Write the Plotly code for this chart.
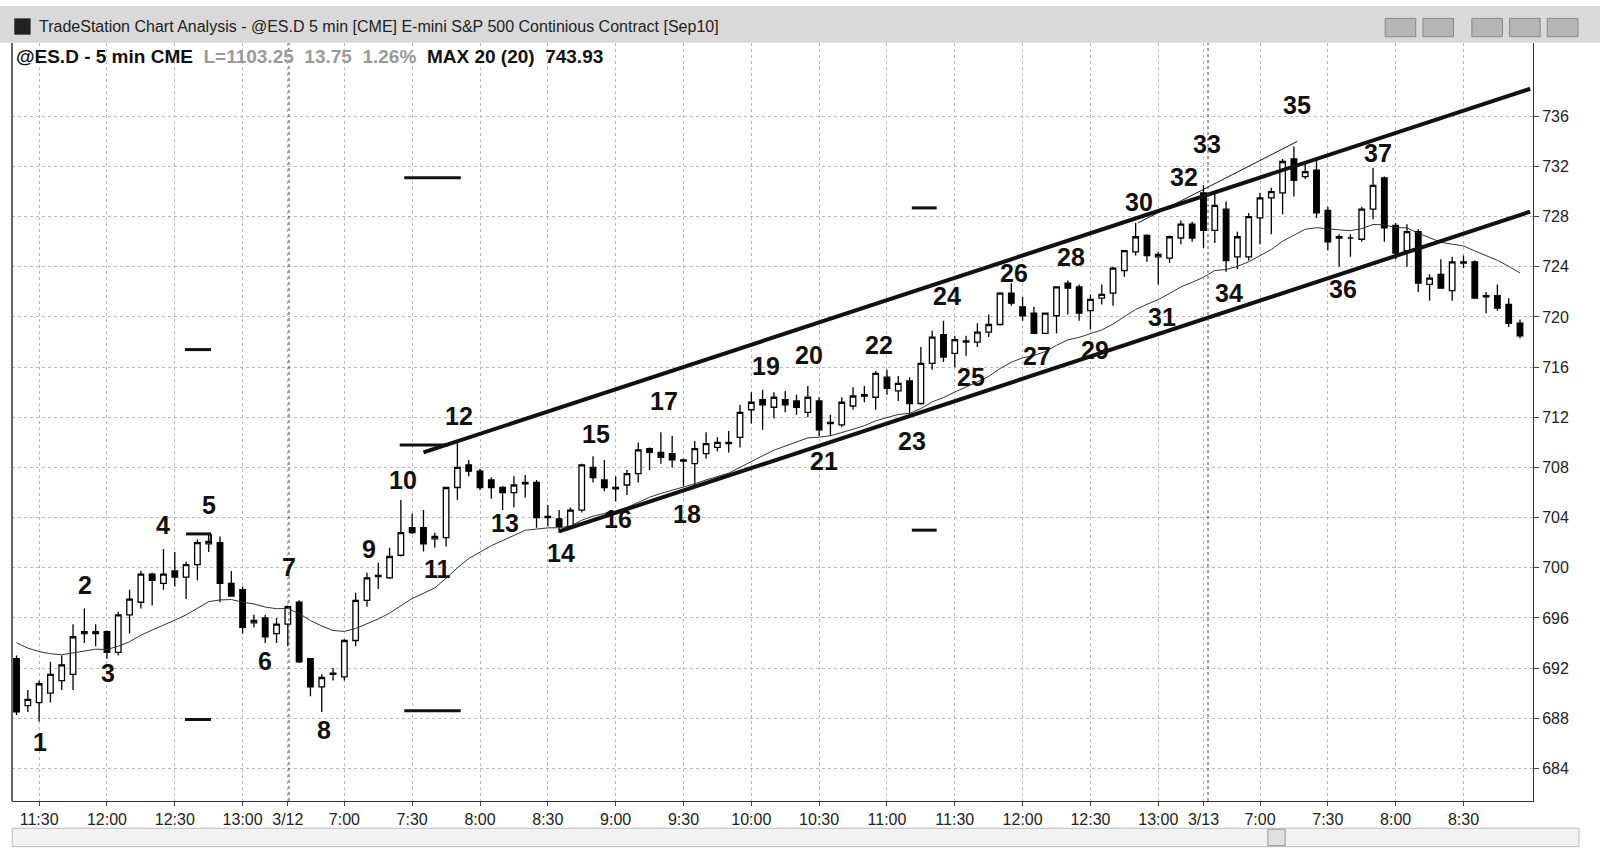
import plotly.graph_objects as go
import pandas as pd

opens = [692.75,689,689.25,690,691,691.5,694.75,694.75,694.9,693.25,696.25,697.25,699.5,698.75,699.75,699.25,700.25,701.9,702,698.75,698.25,695.6,696,694.75,
 695.5,697.25,692.75,690.5,691.5,691.3,694.2,697.4,699.3,699.2,701,703.2,703.2,702.3,702.4,706.4,708.2,707.7,707,706.4,706,706.7,706.8,704,703.9,703.3,
 704.6,708,707,706.3,706.6,707.5,709.5,709.2,709.1,708.6,708.3,709.1,709.6,709.9,710.4,712.6,713.4,712.8,713.4,713.3,712.4,713.3,711.5,711.4,712.9,713.7,
 713.6,715.2,714.1,714.9,713.1,716.3,718.6,717.1,718,718,718.8,719.4,721.9,720.8,720.3,718.7,720.1,722.7,722.4,720.5,721.5,721.9,723.7,725.2,726.5,724.8,
 724.7,726.3,727.4,
 729.9,726.9,728.6,724.8,724.8,727.9,729.5,729.9,732.6,731.2,731.7,728.5,726.4,726.3,726.2,728.6,731.1,727.3,725.3,726.8,722.6,723.4,722.1,724.4,724.4,
 721.7,721.7,721,719.5]
highs = [693,690.25,691,692.5,693,695.5,696.75,695.5,695,696.5,698.25,699.75,699.6,701.5,701.25,700.5,702.25,702.75,702.5,699.75,698.5,696.25,696.25,696,
 697,697.4,692.8,691.5,692,694.3,698,699.6,700.4,701.6,705.4,704.3,704.6,702.8,706.4,710,708.6,707.9,707.2,706.5,707.3,707.4,707,705,704.6,704.8,
 708.3,708.9,708.6,707.3,707.8,710,709.6,710.8,710.5,708.7,710.1,710.8,710.4,710.9,713,714,714.2,714,714.1,713.8,714.5,713.6,712.2,713.6,714.4,714.5,
 715.7,715.8,715.3,715.2,717.6,718.9,719.7,718.5,718.5,719.5,720.2,722,722.7,721.6,720.8,720.3,722.4,722.9,722.6,721.8,722.6,724,725.3,727.5,726.6,725.2,
 726.5,727.7,727.6,
 730.5,729.9,729.2,726.8,728.3,729.9,730.3,732.6,733.6,732.3,732.5,728.8,726.6,726.6,728.8,731.9,731.2,727.5,727.4,727,723.4,724.6,724.8,724.9,724.5,
 722,722.6,721.5,719.8]
lows = [688.25,688.5,687.75,689.25,690.25,690.25,694,693.75,692.75,693,694.75,696.75,697,698.25,698.5,697.5,699,701.25,697.25,697.75,694.75,695.25,694,694,
 693.75,692.4,689.75,688.5,691,691,693.75,696.9,698.3,699.1,700.9,702.7,701.3,701.6,701.7,705.4,707.3,706.2,705.5,704.6,704.8,705.6,703.2,703.3,702.8,703.2,
 704.4,706.8,706.1,705.3,705.8,706.8,707.8,708.3,708,706.5,706.6,708.7,709.3,709.2,709.6,711.5,711,711.9,712.4,712.2,712,710.5,710.5,711.2,712.6,713.2,
 712.6,713.8,713.3,712.3,713,715.8,716.4,716,716.9,717.6,718.4,719.3,720.9,719.7,718.7,718.7,718.7,720.2,719.7,719,721,720.9,723.2,724.9,724.4,722.6,
 724.3,725.8,726,
 725.5,725.9,723.6,723.8,724.5,725.8,726.6,728.2,729.6,731,727.9,725.3,724,724.8,726,727.8,726,724.6,724,722,721.3,722.3,721.3,723.9,721.5,
 720.3,720.5,719.2,718.3]
closes = [688.5,689.5,690.75,691.5,692.25,694.5,694.9,694.9,693.25,696.25,697.5,699.5,699,699.5,699.25,700.25,702,702.1,698.75,697.75,695.25,695.8,694.5,695.5,
 696.9,692.5,690.5,691.25,691.6,694.2,697.4,699.2,699.4,700.9,702.8,702.8,701.9,702.5,706.4,708,707.7,706.4,706.4,706,706.6,706.8,704,704.1,703.3,704.6,
 708.2,707.2,706.4,706.4,707.5,709.4,709.2,708.8,708.6,708.5,709.5,709.9,710,710,712.4,713.2,713,713.6,713,712.8,713.6,711,711.6,713.2,713.7,713.8,
 715.5,714.3,714.7,713.1,716.3,718.4,716.8,718.2,718.1,718.8,719.4,721.9,721.1,720.1,718.7,720.3,722.4,722.3,720.3,721.4,721.8,723.9,725.3,726.4,724.9,725,
 726.4,727.4,726.3,
 726.9,728.9,724.5,726.4,728,729.5,730,732.4,730.9,731.6,728.3,726,726.3,726.3,728.6,730.5,727.1,725.1,726.8,722.7,723.1,722.3,724.4,724.3,721.5,
 721.6,720.7,719.5,718.5]
ma_seed = 694.6

tick_idx = [2,8,14,20,24,29,35,41,47,53,59,65,71,77,83,89,95,101,105,110,116,122,128]
tick_text = ["11:30","12:00","12:30","13:00","3/12","7:00","7:30","8:00","8:30","9:00","9:30","10:00","10:30","11:00",
             "11:30","12:00","12:30","13:00","3/13","7:00","7:30","8:00","8:30"]
price_ticks = list(range(684, 737, 4))
day_breaks = [24.1, 105.4]

# swing labels: number, bar index, price
lab_num = list(range(1, 38))
lab_bar = [2.1,6.1,8.1,13.0,17.0,22.0,24.1,27.2,31.2,34.2,37.2,39.1,43.2,48.2,51.3,53.2,57.3,59.3,66.3,70.1,71.4,76.3,79.2,82.3,84.4,88.2,90.3,93.3,95.4,99.3,101.3,103.3,105.3,107.3,113.3,117.3,120.4]
lab_px = [686.1,698.6,691.6,703.4,705.0,692.6,700.1,687.1,701.5,707.0,699.9,712.1,703.6,701.2,710.7,703.9,713.3,704.3,716.1,717.0,708.5,717.8,710.1,721.7,715.2,723.5,716.9,724.8,717.4,729.2,720.0,731.2,733.8,721.9,736.9,722.2,733.1]

upper_ch = ([36.0, 133.9], [709.2, 738.2])
lower_ch = ([48.0, 133.9], [702.9, 728.4])
thin_ch = ([99.2, 113.3], [727.5, 734.0])
hlines = [(34.3,39.3,731.1),(14.9,17.2,717.4),(14.9,17.2,687.9),(34.3,39.3,688.6),(79.2,81.4,728.7),(79.2,81.4,703.0),(15.0,17.2,702.7),(33.9,38.2,709.8)]

x = list(range(len(closes)))
ma = pd.Series([ma_seed] + closes).ewm(span=20, adjust=False).mean().tolist()[1:]

fig = go.Figure()
fig.add_trace(go.Candlestick(x=x, open=opens, high=highs, low=lows, close=closes,
    increasing=dict(line=dict(color="black", width=1.3), fillcolor="white"),
    decreasing=dict(line=dict(color="black", width=1.3), fillcolor="black"),
    whiskerwidth=0, showlegend=False, hoverinfo="skip"))
fig.add_trace(go.Scatter(x=x, y=ma, mode="lines", line=dict(color="#333", width=1), showlegend=False, hoverinfo="skip"))
for xs, ys, w in [(upper_ch[0], upper_ch[1], 4), (lower_ch[0], lower_ch[1], 4), (thin_ch[0], thin_ch[1], 1)]:
    fig.add_trace(go.Scatter(x=xs, y=ys, mode="lines", line=dict(color="#111", width=w), showlegend=False, hoverinfo="skip"))
for x0, x1, yv in hlines:
    fig.add_shape(type="line", x0=x0, x1=x1, y0=yv, y1=yv, line=dict(color="#111", width=3))
fig.add_shape(type="line", x0=17.2, x1=17.2, y0=702.7, y1=702.0, line=dict(color="#111", width=2))
for d in day_breaks:
    fig.add_shape(type="line", x0=d, x1=d, y0=681.4, y1=741.85, line=dict(color="#444", width=1, dash="dot"))
for n, b, p in zip(lab_num, lab_bar, lab_px):
    fig.add_annotation(x=b, y=p, text="<b>%d</b>" % n, showarrow=False, font=dict(size=25, color="#111", family="Liberation Sans"),
                       xanchor="center", yanchor="middle")

S = 1.02
L, R, T, B = 12, 1533, 43, 801
def px(xp): return (xp * S - L) / (R - L)
def py(yp): return (B - yp * S) / (B - T)

# window chrome
fig.add_shape(type="rect", xref="paper", yref="paper", x0=px(0), x1=px(1600), y0=py(42), y1=py(6), fillcolor="#d9d9d9", line=dict(width=0), layer="below")
fig.add_shape(type="rect", xref="paper", yref="paper", x0=px(14), x1=px(30), y0=py(34), y1=py(18), fillcolor="#222", line=dict(width=0))
fig.add_annotation(xref="paper", yref="paper", x=px(36), y=py(26), text="TradeStation Chart Analysis - @ES.D 5 min [CME] E-mini S&P 500 Continious Contract [Sep10]",
                   showarrow=False, xanchor="left", yanchor="middle", font=dict(size=16, color="#222", family="Liberation Sans"))
for bx in [1358, 1395, 1443, 1480, 1517]:
    fig.add_shape(type="rect", xref="paper", yref="paper", x0=px(bx), x1=px(bx + 30), y0=py(36), y1=py(18), fillcolor="#b5b5b5", line=dict(color="#888", width=1))
fig.add_annotation(xref="paper", yref="paper", x=px(14), y=py(55),
    text="<b>@ES.D - 5 min CME</b>  <span style='color:#9a9a9a'><b>L=1103.25  13.75  1.26%</b></span>  <b>MAX 20 (20)  743.93</b>",
    showarrow=False, xanchor="left", yanchor="middle", font=dict(size=19, color="#111", family="Liberation Sans"))
fig.add_shape(type="rect", xref="paper", yref="paper", x0=px(12), x1=px(1548), y0=py(830), y1=py(812), fillcolor="#f2f2f2", line=dict(color="#bbb", width=1))
fig.add_shape(type="rect", xref="paper", yref="paper", x0=px(1243), x1=px(1260), y0=py(829), y1=py(813), fillcolor="#e0e0e0", line=dict(color="#999", width=1))

fig.update_layout(width=1600, height=865, margin=dict(l=L, r=1600 - R, t=T, b=865 - B), paper_bgcolor="white", plot_bgcolor="white",
    xaxis=dict(range=[-0.4, 134.15], tickvals=tick_idx, ticktext=tick_text, showgrid=True, gridcolor="#bbb", griddash="dot",
               rangeslider=dict(visible=False), ticks="outside", ticklen=4, tickfont=dict(size=16, color="#222", family="Liberation Sans"),
               showline=True, linecolor="#333", mirror=False, zeroline=False),
    yaxis=dict(range=[681.4, 741.85], side="right", tickvals=price_ticks, showgrid=True, gridcolor="#bbb", griddash="dot",
               ticks="outside", ticklen=5, tickfont=dict(size=16, color="#222", family="Liberation Sans"),
               showline=True, linecolor="#333", zeroline=False))
fig.add_shape(type="line", xref="paper", yref="paper", x0=0, x1=0, y0=0, y1=1, line=dict(color="#333", width=1.5))
fig.write_html("out.html", config={"displayModeBar": False})

with open("out.html", encoding="utf-8") as f:
    html = f.read()
html = html.replace("<head>", "<head><style>html,body{margin:0;padding:0;overflow:hidden;}</style>", 1)
with open("out.html", "w", encoding="utf-8") as f:
    f.write(html)
